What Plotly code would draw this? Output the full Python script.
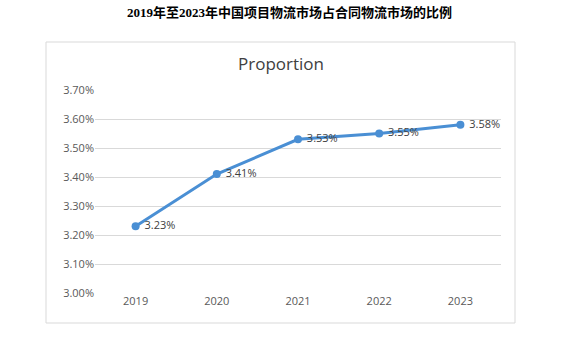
import plotly.graph_objects as go

years = ["2019", "2020", "2021", "2022", "2023"]
proportion = [3.23, 3.41, 3.53, 3.55, 3.58]
labels = ["3.23%", "3.41%", "3.53%", "3.55%", "3.58%"]
y_ticks = [3.00, 3.10, 3.20, 3.30, 3.40, 3.50, 3.60, 3.70]
y_ticklabels = ["3.00%", "3.10%", "3.20%", "3.30%", "3.40%", "3.50%", "3.60%", "3.70%"]

fig = go.Figure()
fig.add_trace(go.Scatter(
    x=years, y=proportion, mode="lines+markers+text",
    text=["\u00a0" + s for s in labels], textposition="middle right",
    textfont=dict(family="Open Sans, Liberation Sans, sans-serif", size=11, color="#404040"),
    line=dict(color="#4a8fd4", width=3),
    marker=dict(color="#4a8fd4", size=8),
    cliponaxis=False, showlegend=False,
))

W, H = 579, 363
L, R, T, B = 95, 78, 90, 70
pw = W - L - R
ph = H - T - B

def px_x(p):
    return (p - L) / pw

def px_y(p):
    return (H - B - p) / ph

fig.add_shape(type="rect", xref="paper", yref="paper",
              x0=px_x(46), x1=px_x(515), y0=px_y(323), y1=px_y(42),
              line=dict(color="#d9d9d9", width=1), fillcolor="rgba(0,0,0,0)")

fig.add_annotation(text="<b>2019年至2023年中国项目物流市场占合同物流市场的比例</b>",
                   xref="paper", yref="paper", x=px_x(289), y=px_y(12),
                   showarrow=False, xanchor="center", yanchor="middle",
                   font=dict(family="Liberation Serif, Noto Sans CJK SC, serif", size=13, color="#000000"))
fig.add_annotation(text="Proportion", xref="paper", yref="paper",
                   x=px_x(281), y=px_y(64), showarrow=False,
                   xanchor="center", yanchor="middle",
                   font=dict(family="Open Sans, Liberation Sans, sans-serif", size=17, color="#404040"))

fig.update_xaxes(type="category", range=[-0.5, 4.5], showgrid=False, showline=False,
                 zeroline=False, ticks="",
                 tickfont=dict(family="Open Sans, Liberation Sans, sans-serif", size=11, color="#595959"))
fig.update_yaxes(range=[3.0, 3.7], tickvals=y_ticks, ticktext=y_ticklabels,
                 showgrid=True, gridcolor="#d9d9d9", gridwidth=1, zeroline=False,
                 showline=False, ticks="",
                 tickfont=dict(family="Open Sans, Liberation Sans, sans-serif", size=11, color="#595959"))
fig.update_layout(width=W, height=H, margin=dict(l=L, r=R, t=T, b=B),
                  paper_bgcolor="white", plot_bgcolor="white")
fig.write_html("out.html", config={"displayModeBar": False},
               post_script="document.body.style.margin='0';")
